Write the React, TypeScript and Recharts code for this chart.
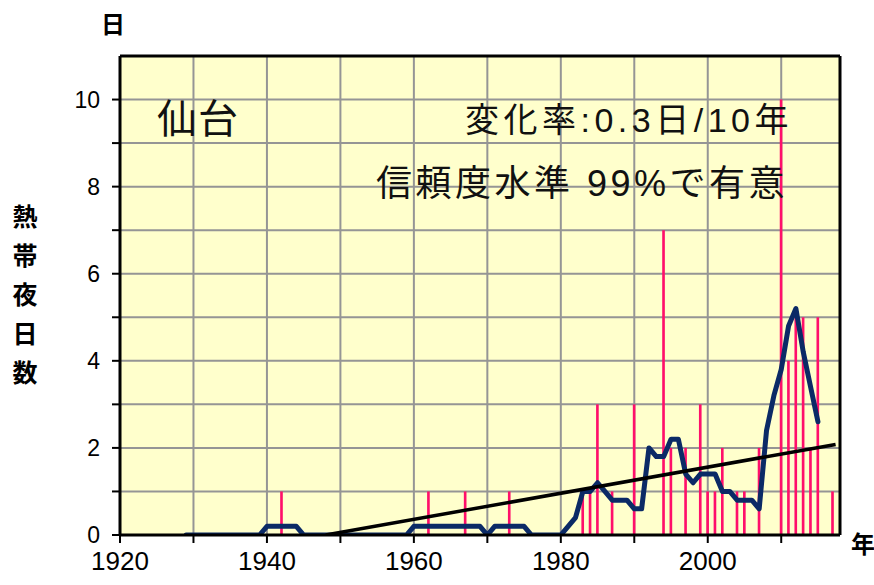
import {
  ComposedChart,
  Bar,
  Line,
  XAxis,
  YAxis,
  CartesianGrid,
  ReferenceLine,
} from "recharts";

// Sendai: annual number of tropical nights (min temp >= 25C), 1927-2017
const FIRST_YEAR = 1927;
const NIGHTS = [
  0, 0, 0, 0, 0, 0, 0, 0, 0, 0, 0, 0, 0, 0, 0, // 1927-1941
  1, 0, 0, 0, 0, 0, 0, 0, 0, 0, // 1942-1951
  0, 0, 0, 0, 0, 0, 0, 0, 0, 0, // 1952-1961
  1, 0, 0, 0, 0, 1, 0, 0, 0, 0, // 1962-1971
  0, 1, 0, 0, 0, 0, 0, 0, 0, 0, // 1972-1981
  0, 1, 1, 3, 0, 1, 0, 0, 3, 0, // 1982-1991
  0, 0, 7, 2, 0, 2, 0, 3, 1, 1, // 1992-2001
  2, 0, 1, 1, 0, 2, 0, 0, 10, 4, // 2002-2011
  5, 5, 2, 5, 0, 1, // 2012-2017
];

// 5-year running mean, 1929-2015
const MA_FIRST_YEAR = 1929;
const MOVING_AVG = [
  0, 0, 0, 0, 0, 0, 0, 0, 0, 0, 0, // 1929-1939
  0.2, 0.2, 0.2, 0.2, 0.2, 0, 0, 0, 0, 0, // 1940-1949
  0, 0, 0, 0, 0, 0, 0, 0, 0, 0, // 1950-1959
  0.2, 0.2, 0.2, 0.2, 0.2, 0.2, 0.2, 0.2, 0.2, 0.2, // 1960-1969
  0, 0.2, 0.2, 0.2, 0.2, 0.2, 0, 0, 0, 0, // 1970-1979
  0, 0.2, 0.4, 1.0, 1.0, 1.2, 1.0, 0.8, 0.8, 0.8, // 1980-1989
  0.6, 0.6, 2.0, 1.8, 1.8, 2.2, 2.2, 1.4, 1.2, 1.4, // 1990-1999
  1.4, 1.4, 1.0, 1.0, 0.8, 0.8, 0.8, 0.6, 2.4, 3.2, // 2000-2009
  3.8, 4.8, 5.2, 4.2, 3.4, 2.6, // 2010-2015
];

// linear trend, 0.3 days / 10 years (clipped at 0)
const TREND_YEARS = [1948, 2017.4];
const TREND_VALUES = [0, 2.08];

const X_TICKS = [1920, 1930, 1940, 1950, 1960, 1970, 1980, 1990, 2000, 2010];
const Y_TICKS = [0, 1, 2, 3, 4, 5, 6, 7, 8, 9, 10];

const rows = NIGHTS.map((n, i) => {
  const year = FIRST_YEAR + i;
  const m = year - MA_FIRST_YEAR;
  return {
    year,
    nights: n,
    ma: m >= 0 && m < MOVING_AVG.length ? MOVING_AVG[m] : null,
  };
});

const trendData = TREND_YEARS.map((year, i) => ({ year, trend: TREND_VALUES[i] }));

const LATIN = '"Liberation Sans", Arial, sans-serif';
const JP = '"Liberation Sans", "Noto Sans CJK JP", sans-serif';

export default function App() {
  return (
    <div style={{ position: "absolute", left: 0, top: 0, width: 874, height: 585, background: "#fff" }}>
      <ComposedChart
        width={874}
        height={585}
        data={rows}
        margin={{ top: 56, right: 34, bottom: 0, left: 0 }}
      >
        <CartesianGrid
          fill="#ffffcc"
          stroke="#959595"
          strokeWidth={2}
          strokeOpacity={1}
        />
        <XAxis
          dataKey="year"
          type="number"
          domain={[1920, 2018]}
          allowDataOverflow
          ticks={X_TICKS}
          interval={0}
          height={50}
          tickFormatter={(v: number) => (v % 20 === 0 ? String(v) : "")}
          tick={{ fill: "#000", fontSize: 26, fontFamily: LATIN }}
          tickSize={8}
          tickMargin={9}
          tickLine={{ stroke: "#000", strokeWidth: 2 }}
          axisLine={{ stroke: "#000", strokeWidth: 3 }}
        />
        <YAxis
          type="number"
          domain={[0, 11]}
          allowDataOverflow
          ticks={Y_TICKS}
          interval={0}
          width={120}
          tickFormatter={(v: number) => (v % 2 === 0 ? String(v) : "")}
          tick={{ fill: "#000", fontSize: 23, fontFamily: LATIN }}
          tickSize={8}
          tickMargin={12}
          tickLine={{ stroke: "#000", strokeWidth: 2 }}
          axisLine={{ stroke: "#000", strokeWidth: 3 }}
        />
        <Bar dataKey="nights" fill="#ff0f6a" barSize={3} isAnimationActive={false} />
        <Line
          dataKey="ma"
          stroke="#0b2a66"
          strokeWidth={5}
          strokeLinejoin="round"
          strokeLinecap="round"
          dot={false}
          type="linear"
          isAnimationActive={false}
        />
        <Line
          data={trendData}
          dataKey="trend"
          stroke="#000"
          strokeWidth={3.5}
          dot={false}
          type="linear"
          isAnimationActive={false}
        />
        <ReferenceLine y={11} stroke="#000" strokeWidth={3} />
        <ReferenceLine x={2018} stroke="#000" strokeWidth={3} />
      </ComposedChart>

      <div style={{ position: "absolute", left: 157, top: 96, fontFamily: JP, fontSize: 40, lineHeight: "46px", color: "#111", letterSpacing: 1 }}>
        仙台
      </div>
      <div style={{ position: "absolute", right: 81, top: 100, fontFamily: JP, fontSize: 34, lineHeight: "40px", color: "#111", whiteSpace: "nowrap", letterSpacing: 4.5 }}>
        変化率:0.3日/10年
      </div>
      <div style={{ position: "absolute", right: 86, top: 163, fontFamily: JP, fontSize: 36, lineHeight: "42px", color: "#111", whiteSpace: "nowrap", letterSpacing: 3.5 }}>
        信頼度水準 99%で有意
      </div>

      <div style={{ position: "absolute", left: 101, top: 11, fontFamily: JP, fontSize: 24, fontWeight: 700, lineHeight: "28px" }}>
        日
      </div>
      <div style={{ position: "absolute", left: 11, top: 198, width: 28, fontFamily: JP, fontSize: 25, fontWeight: 700, lineHeight: "39px", textAlign: "center" }}>
        熱帯夜日数
      </div>
      <div style={{ position: "absolute", left: 851, top: 531, fontFamily: JP, fontSize: 24, fontWeight: 700, lineHeight: "28px" }}>
        年
      </div>
    </div>
  );
}
